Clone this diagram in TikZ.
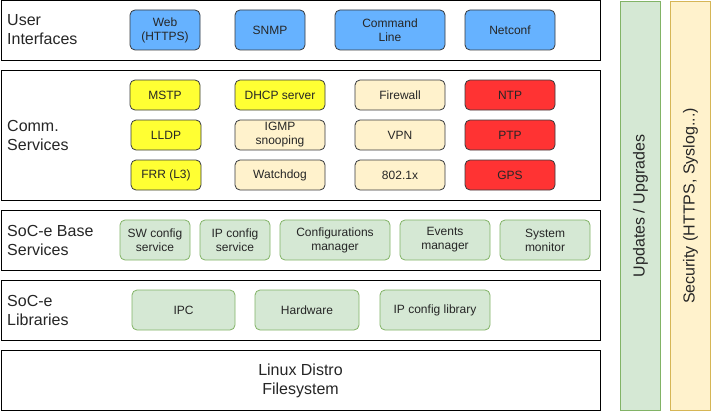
\documentclass[tikz,border=0pt]{standalone}
\usepackage{fontspec}
\setmainfont{Liberation Sans}
\usetikzlibrary{positioning}
\definecolor{uiblue}{HTML}{66B2FF}
\definecolor{yelfill}{HTML}{FFFF33}
\definecolor{creamfill}{HTML}{FFF2CC}
\definecolor{redfill}{HTML}{FF3333}
\definecolor{greenfill}{HTML}{D5E8D4}
\definecolor{greenline}{HTML}{82B366}
\definecolor{goldline}{HTML}{D6B656}
\definecolor{boxline}{HTML}{36393D}
\tikzset{
  layer/.style={draw=black, fill=white, line width=1pt, inner sep=0pt, outer sep=0pt},
  lbl/.style={anchor=west, align=left, inner sep=0pt, text=black!85, font=\fontsize{16}{19}\selectfont},
  blk/.style={draw=boxline, rounded corners=5pt, line width=0.8pt, inner sep=0pt, align=center,
    text=black!85, font=\fontsize{12}{14}\selectfont},
  uibox/.style={blk, fill=uiblue},
  yelbox/.style={blk, fill=yelfill},
  creambox/.style={blk, fill=creamfill},
  redbox/.style={blk, fill=redfill},
  grnbox/.style={blk, draw=greenline, fill=greenfill},
  bar/.style={line width=1pt, inner sep=0pt, text=black!85, font=\fontsize{16}{19}\selectfont}
}
\begin{document}
\begin{tikzpicture}[x=1pt,y=-1pt]
			%%%%% START %%%%%
			\useasboundingbox (0,0) rectangle (711,412);
			
			% layers
			\node[layer, minimum width=599pt, minimum height=60pt] (uilayer) at (300.5,30.5) {};
			\node[layer, minimum width=599pt, minimum height=130pt] (commlayer) at (300.5,135.5) {};
			\node[layer, minimum width=599pt, minimum height=60pt] (baselayer) at (300.5,240.5) {};
			\node[layer, minimum width=599pt, minimum height=60pt] (liblayer) at (300.5,310.5) {};
			\node[layer, minimum width=599pt, minimum height=60pt, font=\fontsize{16}{19}\selectfont, text=black!85, align=center] (linuxlayer) at (300.5,380.5) {Linux Distro\\Filesystem};
			
			\node[lbl] (uilbl) at (7,30) {User\\Interfaces};
			\node[lbl] (commlbl) at (7,135) {Comm.\\Services};
			\node[lbl] (baselbl) at (7,240) {SoC-e Base\\Services};
			\node[lbl] (liblbl) at (7,310) {SoC-e\\Libraries};
			
			% user interfaces
			\node[uibox, minimum width=70pt, minimum height=40pt] (web) at (165,30) {Web\\(HTTPS)};
			\node[uibox, minimum width=70pt, minimum height=40pt] (snmp) at (270,30) {SNMP};
			\node[uibox, minimum width=110pt, minimum height=40pt] (cli) at (390,30) {Command\\Line};
			\node[uibox, minimum width=90pt, minimum height=40pt] (netconf) at (510,30) {Netconf};
			
			% comm. services
			\node[yelbox, minimum width=70pt, minimum height=30pt] (mstp) at (165,95) {MSTP};
			\node[yelbox, minimum width=70pt, minimum height=30pt] (lldp) at (166,135) {LLDP};
			\node[yelbox, minimum width=70pt, minimum height=30pt] (frr) at (166,175) {FRR (L3)};
			\node[yelbox, minimum width=90pt, minimum height=30pt] (dhcp) at (280,95) {DHCP server};
			\node[creambox, minimum width=90pt, minimum height=30pt] (igmp) at (280,135) {IGMP\\snooping};
			\node[creambox, minimum width=90pt, minimum height=30pt] (wdog) at (280,175) {Watchdog};
			\node[creambox, minimum width=90pt, minimum height=30pt] (fw) at (400,95) {Firewall};
			\node[creambox, minimum width=90pt, minimum height=30pt] (vpn) at (400,135) {VPN};
			\node[creambox, minimum width=90pt, minimum height=30pt] (dotx) at (400,175) {802.1x};
			\node[redbox, minimum width=90pt, minimum height=30pt] (ntp) at (510,95) {NTP};
			\node[redbox, minimum width=90pt, minimum height=30pt] (ptp) at (510,135) {PTP};
			\node[redbox, minimum width=90pt, minimum height=30pt] (gps) at (510,175) {GPS};
			
			% base services
			\node[grnbox, minimum width=70pt, minimum height=40pt] (swcfg) at (155,240) {SW config\\service};
			\node[grnbox, minimum width=70pt, minimum height=40pt] (ipcfg) at (235,240) {IP config\\service};
			\node[grnbox, minimum width=110pt, minimum height=40pt] (cfgmgr) at (335,240) {Configurations\\manager};
			\node[grnbox, minimum width=90pt, minimum height=40pt] (evmgr) at (445,240) {Events\\manager};
			\node[grnbox, minimum width=90pt, minimum height=40pt] (sysmon) at (545,240) {System\\monitor};
			
			% libraries
			\node[grnbox, minimum width=103pt, minimum height=40pt] (ipc) at (183.5,310) {IPC};
			\node[grnbox, minimum width=104pt, minimum height=40pt] (hw) at (307,310) {Hardware};
			\node[grnbox, minimum width=110pt, minimum height=40pt] (iplib) at (435,310) {IP config library};
			
			% side bars
			\node[bar, draw=greenline, fill=greenfill, minimum width=408pt, minimum height=40pt, rotate=90] (upd) at (640.5,206) {Updates / Upgrades};
			\node[bar, draw=goldline, fill=creamfill, minimum width=408pt, minimum height=40pt, rotate=90] (sec) at (690.5,206) {Security (HTTPS, Syslog...)};
			
			%%%%% END %%%%%
\end{tikzpicture}
\end{document}
